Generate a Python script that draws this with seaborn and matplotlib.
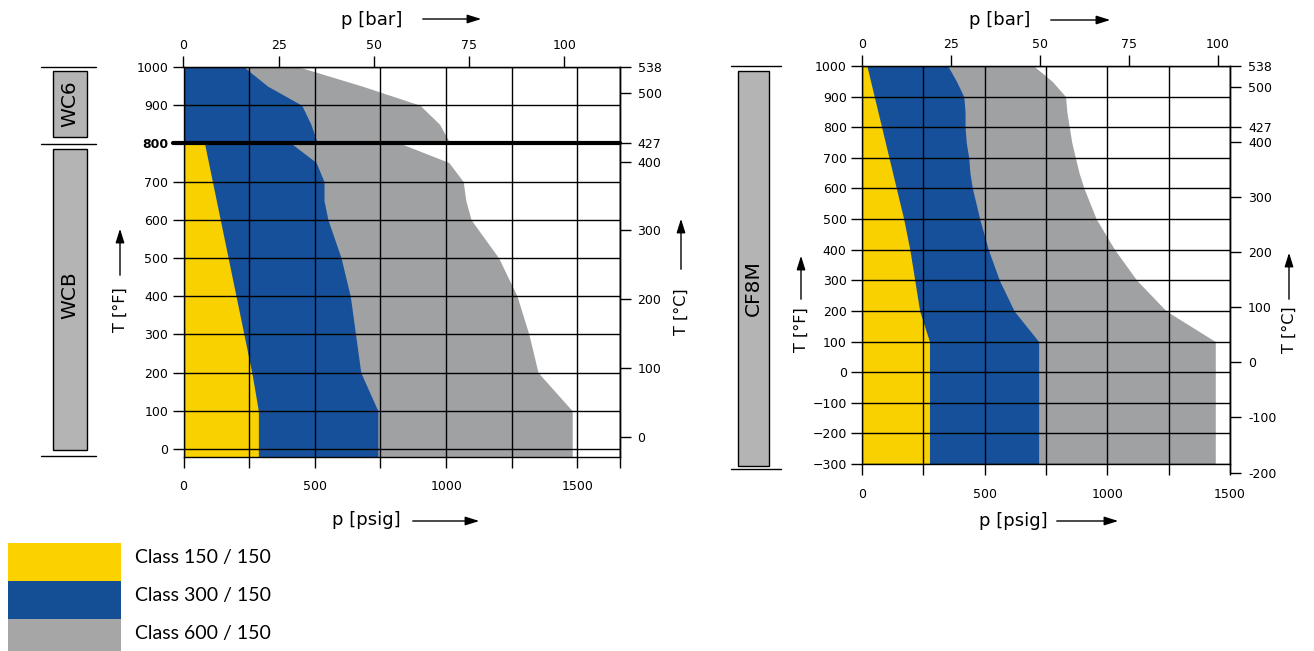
import matplotlib
matplotlib.use("Agg")
import matplotlib.pyplot as plt
from matplotlib.patches import Rectangle, FancyArrowPatch
from matplotlib.lines import Line2D
import seaborn as sns

W, H = 1314, 651
PSI_PER_BAR = 14.5038

# pressure-temperature ratings [psig] over temperature [F]
wcb_temp = [-20, 100, 200, 300, 400, 500, 600, 650, 700, 750, 800]
wcb_150 = [285, 285, 260, 230, 200, 170, 140, 125, 110, 95, 80]
wcb_300 = [740, 740, 675, 655, 635, 600, 550, 535, 535, 505, 410]
wcb_600 = [1480, 1480, 1350, 1315, 1270, 1200, 1095, 1075, 1065, 1010, 825]

wc6_temp = [800, 850, 900, 950, 1000]
wc6_300 = [510, 485, 450, 320, 230]
wc6_600 = [1015, 975, 900, 680, 440]

cf8m_temp = [-300, 100, 200, 300, 400, 500, 600, 650, 700, 750, 800, 850, 900, 950, 1000]
cf8m_150 = [275, 275, 235, 215, 195, 170, 140, 125, 110, 95, 80, 65, 50, 35, 20]
cf8m_300 = [720, 720, 620, 560, 515, 480, 450, 440, 435, 425, 420, 420, 415, 385, 350]
cf8m_600 = [1440, 1440, 1240, 1120, 1030, 955, 905, 885, 870, 855, 845, 835, 830, 775, 700]

psig_ticks = [0, 500, 1000, 1500]
bar_ticks = [0, 25, 50, 75, 100]
celsius_left = [0, 100, 200, 300, 400, 426.7, 500, 537.8]
celsius_left_labels = ["0", "100", "200", "300", "400", "427", "500", "538"]
celsius_right = [-200, -100, 0, 100, 200, 300, 400, 426.7, 500, 537.8]
celsius_right_labels = ["-200", "-100", "0", "100", "200", "300", "400", "427", "500", "538"]

legend_labels = ["Class 150 / 150", "Class 300 / 150", "Class 600 / 150"]

YELLOW = "#F9D100"
BLUE = "#17509A"
GRAY = "#A0A1A3"
LEG_COLORS = ["#FBD100", "#144F95", "#A6A6A6"]
BOX_GRAY = "#B4B4B4"

sns.set_style("ticks", {"axes.edgecolor": "black", "xtick.color": "black",
                        "ytick.color": "black", "text.color": "black"})
plt.rcParams["font.family"] = ["DejaVu Sans"]

fig = plt.figure(figsize=(W / 100, H / 100), dpi=100)


def rect_px(x0, y0, x1, y1):
    return [x0 / W, 1 - y1 / H, (x1 - x0) / W, (y1 - y0) / H]


def pt(x, y):
    return (x / W, 1 - y / H)


def f2c(f):
    return (f - 32) / 1.8


def style_ticks(axis_obj, **kw):
    axis_obj.tick_params(direction="out", length=8, width=1, labelsize=9,
                         color="black", **kw)


def rating_axes(box, xmax, ymin, minor_x, celsius, celsius_labels, c_bottom_f):
    ax = fig.add_axes(rect_px(*box))
    ax.set_xlim(0, xmax)
    ax.set_ylim(ymin, 1000)
    ax.set_xticks(psig_ticks)
    ax.set_xticks(minor_x, minor=True)
    ax.set_yticks(range(max(ymin, -300) if ymin % 100 == 0 else 0, 1001, 100))
    ax.set_axisbelow(False)
    ax.grid(True, which="both", axis="x", color="black", lw=1)
    ax.grid(True, which="major", axis="y", color="black", lw=1)
    for s in ax.spines.values():
        s.set_visible(True)
        s.set_linewidth(1)
        s.set_color("black")
    style_ticks(ax, which="both", bottom=True, left=True, top=False, right=False, pad=3)
    ax.tick_params(axis="x", which="both", pad=9)

    sec = ax.secondary_xaxis("top", functions=(lambda p: p / PSI_PER_BAR,
                                               lambda b: b * PSI_PER_BAR))
    sec.set_xticks(bar_ticks)
    style_ticks(sec, top=True, pad=3)

    # celsius scale on its own axes so it may run past the frame
    pos = ax.get_position()
    h_per_f = pos.height / (1000 - ymin)
    bottom = pos.y0 - (ymin - c_bottom_f) * h_per_f
    cax = fig.add_axes([pos.x0, bottom, pos.width, pos.y1 - bottom])
    cax.set_ylim(f2c(c_bottom_f), f2c(1000))
    cax.patch.set_visible(False)
    for s in ["left", "top", "bottom"]:
        cax.spines[s].set_visible(False)
    cax.spines["right"].set_linewidth(1)
    cax.set_xticks([])
    cax.yaxis.tick_right()
    cax.set_yticks(celsius, celsius_labels)
    style_ticks(cax, right=True, left=False, pad=5)
    return ax


def label(x, y, text, rot=0, size=13):
    fig.text(x / W, 1 - y / H, text, rotation=rot, ha="center", va="center",
             fontsize=size)


def arrow(x0, y0, x1, y1):
    fig.add_artist(FancyArrowPatch(pt(x0, y0), pt(x1, y1), transform=fig.transFigure,
                                   arrowstyle="-|>,head_length=0.7,head_width=0.22",
                                   mutation_scale=12, lw=1, color="black"))


def side_box(x0, y0, x1, y1, text, ty):
    fig.add_artist(Rectangle(pt(x0, y1), (x1 - x0) / W, (y1 - y0) / H,
                             transform=fig.transFigure, facecolor=BOX_GRAY,
                             edgecolor="black", lw=1))
    fig.text((x0 + x1) / 2 / W, 1 - ty / H, text, rotation=90, ha="center",
             va="center", fontsize=14.5)


def side_line(x0, x1, y):
    fig.add_artist(Line2D([x0 / W, x1 / W], [1 - y / H, 1 - y / H],
                          transform=fig.transFigure, color="black", lw=1))


# ---- left chart: WCB / WC6
axl = rating_axes((183.5, 67, 619.5, 456.6), 1660, -20, [250, 750, 1250, 1660],
                  celsius_left, celsius_left_labels, -20)
axl.fill_betweenx(wcb_temp, 0, wcb_600, color=GRAY, lw=0)
axl.fill_betweenx(wc6_temp, 0, wc6_600, color=GRAY, lw=0)
axl.fill_betweenx(wcb_temp, 0, wcb_300, color=BLUE, lw=0)
axl.fill_betweenx(wc6_temp, 0, wc6_300, color=BLUE, lw=0)
axl.fill_betweenx(wcb_temp, 0, wcb_150, color=YELLOW, lw=0)
axl.axhline(800, xmin=-0.025, xmax=1, color="black", lw=3, clip_on=False, zorder=4)
for t in axl.get_yticklabels():
    if t.get_text() == "800":
        t.set_fontweight("bold")

# ---- right chart: CF8M
axr = rating_axes((862, 66, 1230, 464), 1500, -300, [250, 750, 1250],
                  celsius_right, celsius_right_labels, -328)
axr.fill_betweenx(cf8m_temp, 0, cf8m_600, color=GRAY, lw=0)
axr.fill_betweenx(cf8m_temp, 0, cf8m_300, color=BLUE, lw=0)
axr.fill_betweenx(cf8m_temp, 0, cf8m_150, color=YELLOW, lw=0)

# axis titles with arrows
label(372, 20, "p [bar]")
arrow(420, 19, 484, 19)
label(366, 520, "p [psig]")
arrow(410, 521, 482, 521)
label(120, 310, "T [°F]", rot=90, size=11.5)
arrow(120, 278, 120, 226)
label(681, 312, "T [°C]", rot=90, size=11.5)
arrow(681, 272, 681, 216)

label(1000, 20, "p [bar]")
arrow(1048, 20, 1113, 20)
label(1013, 521, "p [psig]")
arrow(1054, 521, 1121, 521)
label(801, 330, "T [°F]", rot=90, size=11.5)
arrow(801, 302, 801, 253)
label(1289, 330, "T [°C]", rot=90, size=11.5)
arrow(1289, 302, 1289, 250)

# material bars
side_line(41, 96, 67)
side_line(41, 96, 143.5)
side_line(41, 96, 455.7)
side_box(52.5, 71, 86.5, 136.5, "WC6", 104)
side_box(52.5, 149, 86.5, 450, "WCB", 295)
side_line(731, 781, 65.5)
side_line(731, 781, 468.5)
side_box(738, 71, 769, 466, "CF8M", 288)

# legend
legend_top = [543, 581, 619]
for top, colour, text in zip(legend_top, LEG_COLORS, legend_labels):
    fig.add_artist(Rectangle(pt(8, top + 38), 113 / W, 38 / H, transform=fig.transFigure,
                             facecolor=colour, lw=0))
    fig.text(135 / W, 1 - (top + 15) / H, text, ha="left", va="center",
             fontsize=14, family=["Lato", "DejaVu Sans"])

fig.savefig("out.png", dpi=100)
